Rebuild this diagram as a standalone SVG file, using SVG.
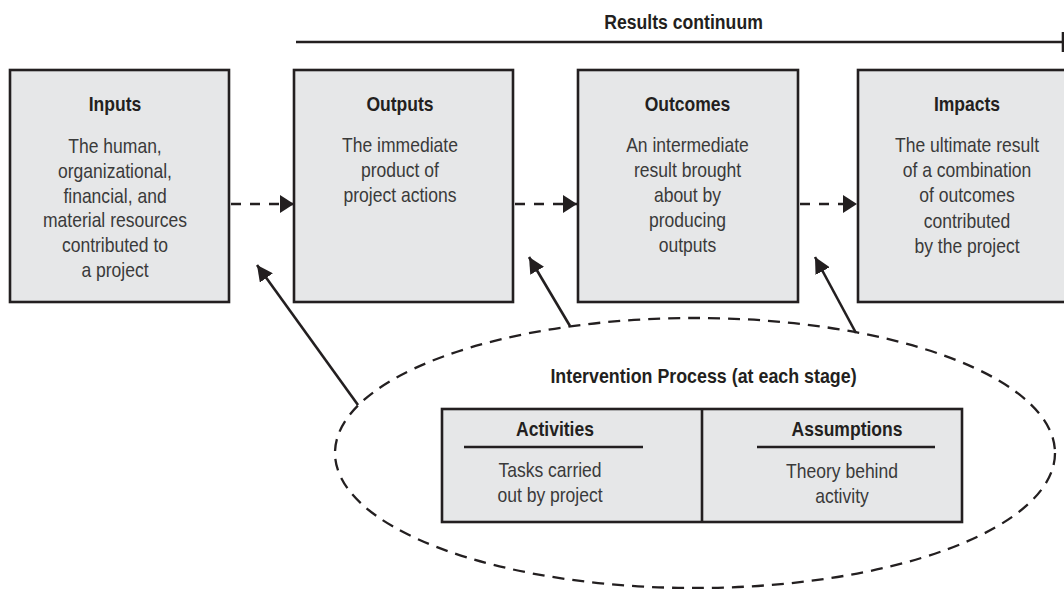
<svg xmlns="http://www.w3.org/2000/svg" width="1064" height="589" viewBox="0 0 1064 589">
  <style>
    .box { fill: #e6e7e8; stroke: #231f20; stroke-width: 2.6; }
    .t { font-family: "Liberation Sans", Arial, sans-serif; text-anchor: middle; }
    .title { font-weight: bold; font-size: 21px; fill: #231f20; }
    .body { font-size: 21px; fill: #3a3a3a; }
    .dash { stroke: #231f20; stroke-width: 2.6; stroke-dasharray: 10 9; fill: none; }
    .solid { stroke: #231f20; stroke-width: 2.6; fill: none; }
    .rule { stroke: #231f20; stroke-width: 2.6; }
  </style>
  <defs>
    <marker id="headD" viewBox="0 0 14 18" refX="14" refY="9" markerWidth="14" markerHeight="18" markerUnits="userSpaceOnUse" orient="auto">
      <path d="M0,0 L14,9 L0,18 z" fill="#231f20"/>
    </marker>
    <marker id="headS" viewBox="0 0 16 16" refX="16" refY="8" markerWidth="16" markerHeight="16" markerUnits="userSpaceOnUse" orient="auto">
      <path d="M0,0 L16,8 L0,16 z" fill="#231f20"/>
    </marker>
  </defs>

  <g id="results-continuum">
    <g transform="translate(683.5 0) scale(0.84 1)">
      <text class="t title" x="0" y="29">Results continuum</text>
    </g>
    <line class="rule" x1="296" y1="42" x2="1063" y2="42"/>
    <line class="rule" x1="1063" y1="32" x2="1063" y2="52"/>
  </g>

  <g id="inputs">
    <rect class="box" x="10" y="70" width="219" height="232"/>
    <g transform="translate(115 0) scale(0.835 1)">
      <text class="t title" x="0" y="111">Inputs</text>
      <text class="t body" x="0" y="153">The human,</text>
      <text class="t body" x="0" y="178">organizational,</text>
      <text class="t body" x="0" y="203">financial, and</text>
      <text class="t body" x="0" y="227.5">material resources</text>
      <text class="t body" x="0" y="252.5">contributed to</text>
      <text class="t body" x="0" y="277">a project</text>
    </g>
  </g>

  <g id="outputs">
    <rect class="box" x="294" y="70" width="219" height="232"/>
    <g transform="translate(400 0) scale(0.835 1)">
      <text class="t title" x="0" y="111">Outputs</text>
      <text class="t body" x="0" y="152">The immediate</text>
      <text class="t body" x="0" y="177">product of</text>
      <text class="t body" x="0" y="202.5">project actions</text>
    </g>
  </g>

  <g id="outcomes">
    <rect class="box" x="578" y="70" width="220" height="232"/>
    <g transform="translate(687.5 0) scale(0.835 1)">
      <text class="t title" x="0" y="111">Outcomes</text>
      <text class="t body" x="0" y="152">An intermediate</text>
      <text class="t body" x="0" y="177.5">result brought</text>
      <text class="t body" x="0" y="202.5">about by</text>
      <text class="t body" x="0" y="227.5">producing</text>
      <text class="t body" x="0" y="252.5">outputs</text>
    </g>
  </g>

  <g id="impacts">
    <rect class="box" x="858" y="70" width="220" height="232"/>
    <g transform="translate(967 0) scale(0.835 1)">
      <text class="t title" x="0" y="111">Impacts</text>
      <text class="t body" x="0" y="152">The ultimate result</text>
      <text class="t body" x="0" y="177.5">of a combination</text>
      <text class="t body" x="0" y="202.5">of outcomes</text>
      <text class="t body" x="0" y="228">contributed</text>
      <text class="t body" x="0" y="253">by the project</text>
    </g>
  </g>

  <g id="intervention-process">
    <ellipse cx="695" cy="453" rx="360" ry="135" fill="none" stroke="#231f20" stroke-width="2.3" stroke-dasharray="12 8"/>
    <g transform="translate(703.5 0) scale(0.85 1)">
      <text class="t title" x="0" y="383">Intervention Process (at each stage)</text>
    </g>
  </g>

  <g id="activities-assumptions">
    <rect class="box" x="442" y="409" width="520" height="113"/>
    <line class="rule" x1="702" y1="409" x2="702" y2="522"/>
  </g>

  <g id="activities">
    <g transform="translate(555 0) scale(0.835 1)">
      <text class="t title" x="0" y="436">Activities</text>
    </g>
    <line class="rule" x1="464" y1="447" x2="643" y2="447"/>
    <g transform="translate(550 0) scale(0.835 1)">
      <text class="t body" x="0" y="477">Tasks carried</text>
      <text class="t body" x="0" y="502.5">out by project</text>
    </g>
  </g>

  <g id="assumptions">
    <g transform="translate(847 0) scale(0.835 1)">
      <text class="t title" x="0" y="436">Assumptions</text>
    </g>
    <line class="rule" x1="757" y1="447" x2="935" y2="447"/>
    <g transform="translate(842 0) scale(0.835 1)">
      <text class="t body" x="0" y="478">Theory behind</text>
      <text class="t body" x="0" y="503">activity</text>
    </g>
  </g>

  <g id="connectors">
    <line class="dash" x1="231" y1="204" x2="294" y2="204" marker-end="url(#headD)"/>
    <line class="dash" x1="515" y1="204" x2="577" y2="204" marker-end="url(#headD)"/>
    <line class="dash" x1="800" y1="204" x2="857" y2="204" marker-end="url(#headD)"/>
    <line class="solid" x1="358" y1="405" x2="257" y2="265" marker-end="url(#headS)"/>
    <line class="solid" x1="570" y1="326" x2="529" y2="257" marker-end="url(#headS)"/>
    <line class="solid" x1="856" y1="333" x2="815" y2="257" marker-end="url(#headS)"/>
  </g>
</svg>
